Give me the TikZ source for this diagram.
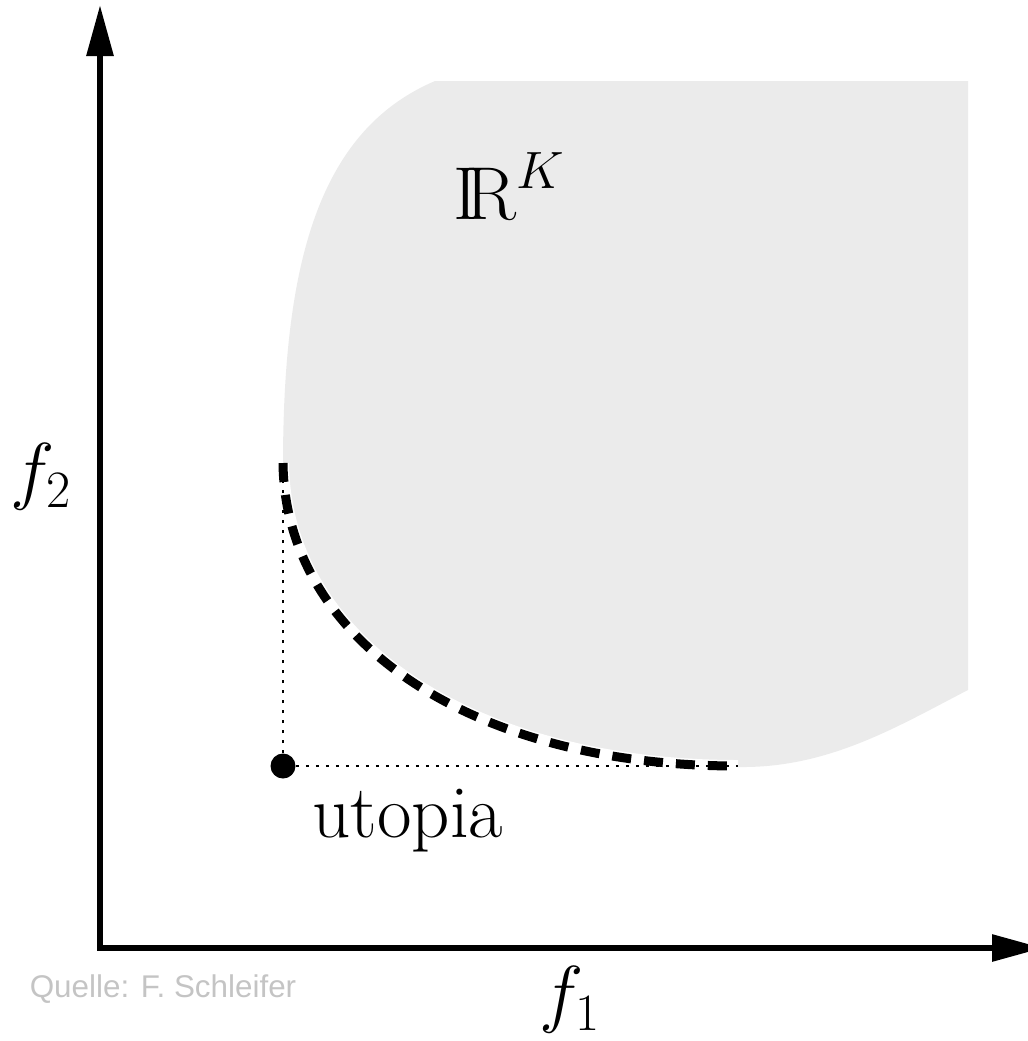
\RequirePackage{fix-cm}
\documentclass[tikz,border=0pt]{standalone}
\usepackage{amsmath,amssymb}
\usepackage{fontspec}
\newfontfamily\srcfont{Liberation Sans}
\usetikzlibrary{arrows.meta,positioning}
\definecolor{regiongray}{HTML}{EBEBEB}
\definecolor{srcgray}{HTML}{C4C4C4}

\begin{document}
\begin{tikzpicture}[x=0.5pt, y=-0.5pt, >={Triangle[length=25.5pt, width=13pt]},
  lbl/.style={font=\fontsize{37.5}{44}\selectfont, inner sep=0pt},
  guide/.style={line width=1pt, dash pattern=on 1.5pt off 3.5pt},
  axis/.style={line width=3pt, line join=miter}]
\useasboundingbox (0,0) rectangle (1028,1041);
\fill[regiongray] (283,465) .. controls (283,260) and (320,130) .. (435,81) -- (968,81) -- (968,690)
  .. controls (900,725) and (830,768) .. (740,767) .. controls (470,766) and (285,640) .. (283,465) -- cycle;
\coordinate (pa) at (283,463);
\coordinate (pb) at (738,766);
\draw[white, line width=6pt] (pa) .. controls (285,640) and (470,766) .. (pb);
\node[circle, fill, inner sep=0pt, minimum size=12.5pt] (utop) at (283,766) {};
\draw[guide] (utop) -- (pa);
\draw[guide] (utop) -- (pb);
\draw[line width=4.5pt, dash pattern=on 9.5pt off 6.5pt] (pa) .. controls (285,640) and (470,766) .. (pb);
\coordinate (org) at (100,948);
\coordinate (ytip) at (100,5);
\coordinate (xtip) at (1043,948);
\draw[axis, <->] (ytip) -- (org) -- (xtip);
\node[lbl, anchor=base] (space) at (509,219) {$\mathrm{I\!R}^K$};
\node[lbl, anchor=base] (ulbl) at (408,837) {utopia};
\node[lbl] (f2lbl) at (41,477) {$f_2$};
\node[lbl] (f1lbl) at (570,1000) {$f_1$};
\node[font={\srcfont\fontsize{15.7}{18}\selectfont}, text=srcgray, anchor=base, inner sep=0pt] (src) at (163,997) {Quelle: F. Schleifer};
\end{tikzpicture}
\end{document}
